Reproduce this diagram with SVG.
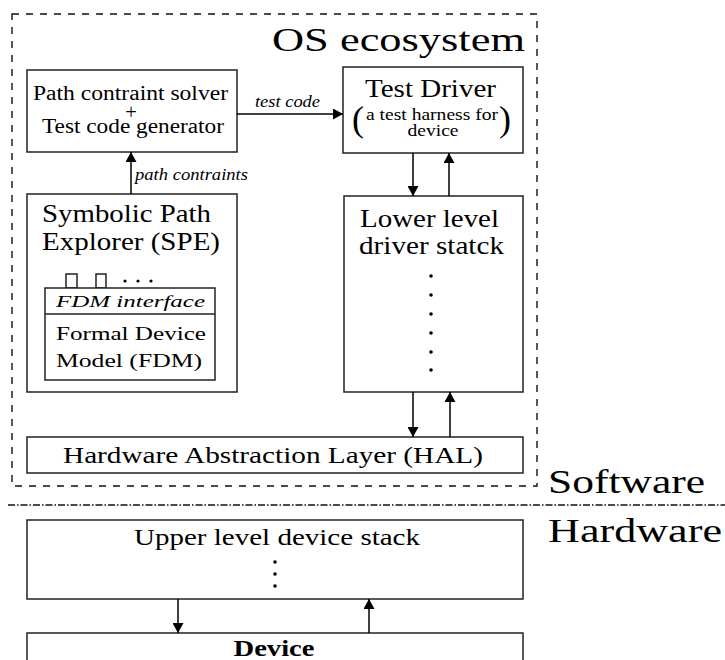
<svg xmlns="http://www.w3.org/2000/svg" width="725" height="660" viewBox="0 0 725 660" font-family="'Liberation Serif', Tinos, 'Times New Roman', Times, serif">
<style>
  text { font-family: 'Liberation Serif', Tinos, 'Times New Roman', Times, serif; fill: #000; }
  .box { fill: #fff; stroke: #222; stroke-width: 1.5; }
  .conn { stroke: #000; stroke-width: 1.5; fill: none; }
  .it { font-style: italic; }
  .dot { fill: #000; }
</style>
<defs>
  <marker id="ah" viewBox="0 0 10 11" refX="10" refY="5.5" markerWidth="10" markerHeight="11" markerUnits="userSpaceOnUse" orient="auto">
    <path d="M0,0 L10,5.5 L0,11 z" fill="#000"/>
  </marker>
</defs>

<g id="os-ecosystem">
  <rect x="12" y="14" width="525" height="472" fill="none" stroke="#111" stroke-width="1.4" stroke-dasharray="7,7"/>
  <text x="272" y="51" font-size="34" textLength="253" lengthAdjust="spacingAndGlyphs">OS ecosystem</text>
</g>

<g id="sw-hw-divider">
  <line x1="8" y1="505" x2="725" y2="505" stroke="#111" stroke-width="1.4" stroke-dasharray="7,2,1.5,2"/>
  <text x="548" y="493" font-size="34" textLength="157" lengthAdjust="spacingAndGlyphs">Software</text>
  <text x="548" y="542" font-size="34" textLength="174" lengthAdjust="spacingAndGlyphs">Hardware</text>
</g>

<g id="solver">
  <rect class="box" x="27" y="70" width="210" height="82"/>
  <text x="130.5" y="100" font-size="20.5" text-anchor="middle" textLength="195" lengthAdjust="spacingAndGlyphs">Path contraint solver</text>
  <text x="131" y="119" font-size="20.5" text-anchor="middle">+</text>
  <text x="133" y="133" font-size="20.5" text-anchor="middle" textLength="182" lengthAdjust="spacingAndGlyphs">Test code generator</text>
</g>

<g id="test-driver">
  <rect class="box" x="343" y="67" width="180" height="86"/>
  <text x="430.5" y="97" font-size="25.5" text-anchor="middle" textLength="131" lengthAdjust="spacingAndGlyphs">Test Driver</text>
  <text x="352" y="131" font-size="36">(</text>
  <text x="432" y="120" font-size="17" text-anchor="middle" textLength="132" lengthAdjust="spacingAndGlyphs">a test harness for</text>
  <text x="433" y="136" font-size="17" text-anchor="middle" textLength="51" lengthAdjust="spacingAndGlyphs">device</text>
  <text x="499" y="131" font-size="36">)</text>
</g>

<g id="spe">
  <rect class="box" x="27" y="194" width="210" height="198"/>
  <text x="42" y="222" font-size="24.5" textLength="169" lengthAdjust="spacingAndGlyphs">Symbolic Path</text>
  <text x="42" y="250" font-size="24.5" textLength="178" lengthAdjust="spacingAndGlyphs">Explorer (SPE)</text>
  <rect x="66" y="274" width="11" height="14" fill="#fff" stroke="#222" stroke-width="1.5"/>
  <rect x="96" y="274" width="10" height="14" fill="#fff" stroke="#222" stroke-width="1.5"/>
  <circle class="dot" cx="125" cy="281" r="1.6"/>
  <circle class="dot" cx="138" cy="281" r="1.6"/>
  <circle class="dot" cx="151" cy="281" r="1.6"/>
</g>

<g id="fdm">
  <rect class="box" x="45" y="288" width="170" height="92"/>
  <line x1="45" y1="314" x2="215" y2="314" stroke="#222" stroke-width="1.5"/>
  <text class="it" x="130.5" y="307" font-size="17.5" text-anchor="middle" textLength="149" lengthAdjust="spacingAndGlyphs">FDM interface</text>
  <text x="56" y="340" font-size="19.5" textLength="150" lengthAdjust="spacingAndGlyphs">Formal Device</text>
  <text x="56" y="367" font-size="19.5" textLength="146" lengthAdjust="spacingAndGlyphs">Model (FDM)</text>
</g>

<g id="lower-driver-stack">
  <rect class="box" x="344" y="196" width="179" height="196"/>
  <text x="360" y="227" font-size="25.5" textLength="139" lengthAdjust="spacingAndGlyphs">Lower level</text>
  <text x="359" y="254" font-size="25.5" textLength="145" lengthAdjust="spacingAndGlyphs">driver statck</text>
  <circle class="dot" cx="431" cy="276" r="1.8"/>
  <circle class="dot" cx="431" cy="295" r="1.8"/>
  <circle class="dot" cx="431" cy="314" r="1.8"/>
  <circle class="dot" cx="431" cy="333" r="1.8"/>
  <circle class="dot" cx="431" cy="352" r="1.8"/>
  <circle class="dot" cx="431" cy="370" r="1.8"/>
</g>

<g id="hal">
  <rect class="box" x="27" y="437" width="496" height="36"/>
  <text x="273" y="463" font-size="24" text-anchor="middle" textLength="420" lengthAdjust="spacingAndGlyphs">Hardware Abstraction Layer (HAL)</text>
</g>

<g id="upper-device-stack">
  <rect class="box" x="27" y="520" width="496" height="79"/>
  <text x="277" y="545" font-size="23" text-anchor="middle" textLength="286" lengthAdjust="spacingAndGlyphs">Upper level device stack</text>
  <circle class="dot" cx="275" cy="562" r="1.8"/>
  <circle class="dot" cx="275" cy="574" r="1.8"/>
  <circle class="dot" cx="275" cy="586" r="1.8"/>
</g>

<g id="device">
  <rect class="box" x="27" y="633" width="496" height="40"/>
  <text x="274" y="656" font-size="23" font-weight="bold" text-anchor="middle" textLength="81" lengthAdjust="spacingAndGlyphs">Device</text>
</g>

<g id="connectors">
  <line class="conn" x1="237" y1="114" x2="343" y2="114" marker-end="url(#ah)"/>
  <text class="it" x="287.5" y="107" font-size="16" text-anchor="middle" textLength="65" lengthAdjust="spacingAndGlyphs">test code</text>
  <line class="conn" x1="131" y1="194" x2="131" y2="152" marker-end="url(#ah)"/>
  <text class="it" x="135" y="180" font-size="16.5" textLength="113" lengthAdjust="spacingAndGlyphs">path contraints</text>
  <line class="conn" x1="413" y1="153" x2="413" y2="196" marker-end="url(#ah)"/>
  <line class="conn" x1="449" y1="196" x2="449" y2="153" marker-end="url(#ah)"/>
  <line class="conn" x1="413" y1="392" x2="413" y2="437" marker-end="url(#ah)"/>
  <line class="conn" x1="450" y1="437" x2="450" y2="392" marker-end="url(#ah)"/>
  <line class="conn" x1="178" y1="599" x2="178" y2="633" marker-end="url(#ah)"/>
  <line class="conn" x1="369" y1="633" x2="369" y2="599" marker-end="url(#ah)"/>
</g>
</svg>
